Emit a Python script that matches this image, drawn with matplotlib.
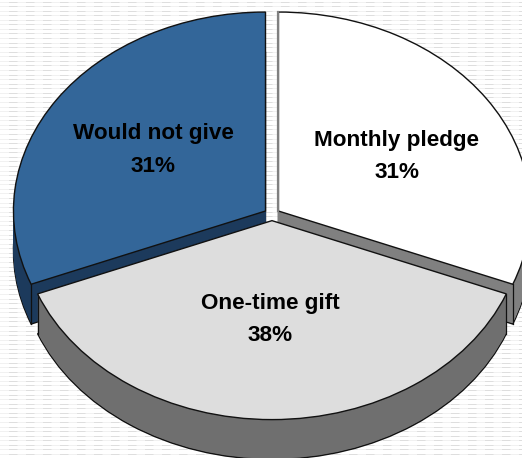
#!/usr/bin/env python3

import numpy as np
import matplotlib
matplotlib.use('Agg')
import matplotlib.pyplot as plt
from matplotlib.lines import Line2D

labels = ['Monthly pledge', 'One-time gift', 'Would not give']
values = [31, 38, 31]
top_colors = ['#ffffff', '#dddddd', '#336699']
side_colors = ['#808080', '#6f6f6f', '#1c3a5c']
label_pos = [(0.496, 0.289), (-0.008, -0.53), (-0.472, 0.324)]

plt.rcParams['font.family'] = ['Liberation Sans', 'DejaVu Sans']

fig = plt.figure(figsize=(5.22, 4.58), dpi=100)
ax = fig.add_axes([0, 0, 1, 1])

explode = [0.031, 0.031, 0.031]
depth = 0.2
edge = '#111111'

# fondo rayado de la diapositiva
for y_px in np.arange(1.5, 458, 4.57):
    y_fig = 1 - y_px / 458
    fig.add_artist(Line2D([0, 1], [y_fig, y_fig], color='#f1f1f1', lw=0.72,
                          transform=fig.transFigure, zorder=-2))
    fig.add_artist(Line2D([0, 1], [y_fig, y_fig], color='#dedede', lw=0.72,
                          ls=(8.5, (8.5, 8.5)), dash_capstyle='butt',
                          transform=fig.transFigure, zorder=-1))


def capa(colors, shift, visibles, z, lw=0.0):
    # dibuja solo las porciones pedidas, corridas hacia abajo
    wedges, _ = ax.pie(values, colors=colors, explode=explode, startangle=90,
                       counterclock=False, center=(0, -shift), frame=True,
                       wedgeprops={'linewidth': lw, 'edgecolor': edge})
    for i, w in enumerate(wedges):
        w.set_visible(i in visibles)
        w.set_zorder(z)
    return wedges


def lateral(visibles, z):
    # cara lateral: la torta apilada, con el borde en la capa de abajo
    capa(side_colors, depth, visibles, z, lw=1.0)
    for i in range(39, 0, -1):
        capa(side_colors, depth * i / 40, visibles, z)
    # aristas verticales en las esquinas de adelante
    tops = capa(top_colors, 0, [], z)
    for i in visibles:
        w = tops[i]
        for ang in (w.theta1, w.theta2):
            if np.sin(np.radians(ang)) > 0.5:
                continue
            x = w.center[0] + w.r * np.cos(np.radians(ang))
            y = w.center[1] + w.r * np.sin(np.radians(ang))
            ax.plot([x, x], [y, y - depth], color=edge, lw=0.9, zorder=z)


lateral([0, 2], 1)
capa(top_colors, 0, [0, 2], 2, lw=1.0)
# filo gris a la izquierda de la porcion blanca
w0 = capa(top_colors, 0, [], 2)[0]
ax.plot([w0.center[0], w0.center[0]], [w0.center[1], w0.center[1] + w0.r],
        color='#808080', lw=1.6, zorder=2.5)

# la porcion de adelante tapa a las otras
lateral([1], 3)
capa(top_colors, 0, [1], 4, lw=1.0)

ax.set_aspect('auto')
ax.set_xlim(-1.079, 0.992)
ax.set_ylim(-1.224, 1.078)
ax.axis('off')

for name, val, pos in zip(labels, values, label_pos):
    ax.text(pos[0], pos[1], name + '\n' + f'{val}%', ha='center', va='center',
            fontsize=16.2, fontweight='bold', linespacing=1.69, zorder=10)

fig.savefig('out.png', dpi=100)
